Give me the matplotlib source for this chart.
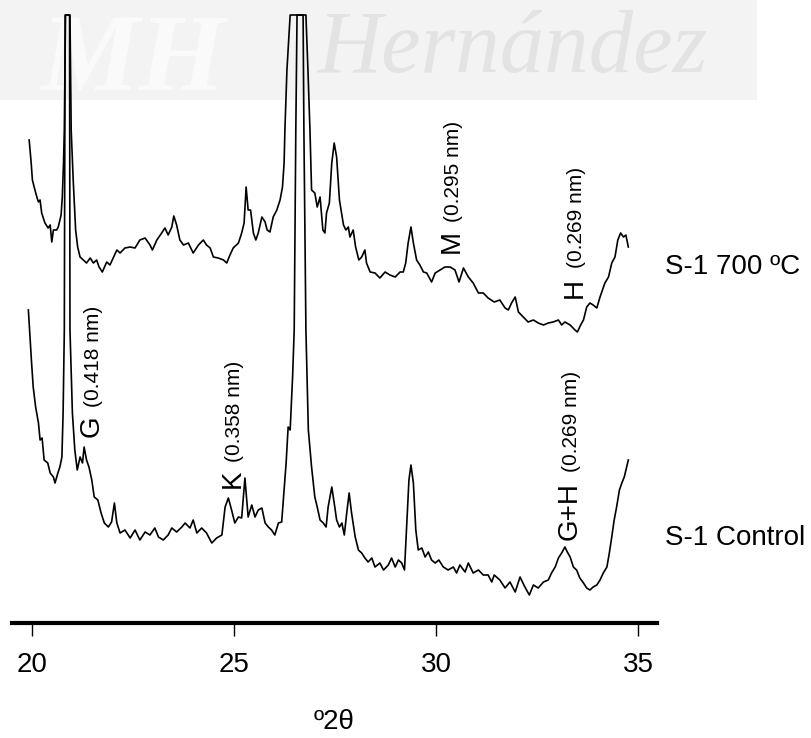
import matplotlib
matplotlib.use("Agg")
import matplotlib.pyplot as plt
from matplotlib.patches import Rectangle

plt.rcParams['font.family'] = ['Liberation Sans', 'DejaVu Sans']

# S-1 700 ºC pattern (own intensity scale, clipped at 330)
two_theta_700 = [19.93, 19.98, 20.01, 20.06, 20.12, 20.16, 20.20, 20.24, 20.32, 20.40,
                 20.45, 20.49, 20.53, 20.61, 20.65, 20.72, 20.75, 20.78, 20.80, 20.83,
                 20.94, 20.97, 21.02, 21.08, 21.13, 21.19, 21.27, 21.35, 21.44, 21.52,
                 21.60, 21.66, 21.74, 21.85, 21.93, 22.01, 22.10, 22.18, 22.30, 22.43,
                 22.55, 22.67, 22.80, 22.92, 22.98, 23.09, 23.21, 23.29, 23.37, 23.46,
                 23.51, 23.58, 23.66, 23.75, 23.87, 23.99, 24.12, 24.24, 24.32, 24.41,
                 24.49, 24.61, 24.74, 24.82, 24.90, 24.98, 25.11, 25.19, 25.25, 25.30,
                 25.35, 25.41, 25.48, 25.54, 25.60, 25.69, 25.77, 25.82, 25.89, 25.97,
                 26.06, 26.14, 26.20, 26.24, 26.26, 26.31, 26.39, 26.78, 26.83, 26.88,
                 26.92, 27.00, 27.06, 27.13, 27.20, 27.25, 27.29, 27.36, 27.42, 27.48,
                 27.54, 27.61, 27.71, 27.77, 27.83, 27.87, 27.95, 28.01, 28.09, 28.16,
                 28.24, 28.28, 28.37, 28.49, 28.61, 28.74, 28.86, 28.99, 29.11, 29.19,
                 29.25, 29.31, 29.38, 29.44, 29.52, 29.60, 29.69, 29.77, 29.89, 29.98,
                 30.10, 30.22, 30.35, 30.47, 30.57, 30.68, 30.80, 30.92, 31.05, 31.17,
                 31.29, 31.44, 31.58, 31.71, 31.79, 31.87, 31.96, 32.04, 32.16, 32.28,
                 32.41, 32.53, 32.66, 32.78, 32.90, 33.03, 33.11, 33.19, 33.32, 33.44,
                 33.50, 33.58, 33.65, 33.73, 33.81, 33.89, 33.98, 34.06, 34.18, 34.27,
                 34.35, 34.43, 34.50, 34.57, 34.64, 34.70, 34.76]
counts_700 = [205, 182, 165, 157, 148, 143, 145, 132, 122, 117,
              120, 103, 115, 115, 118, 130, 148, 182, 215, 330,
              330, 215, 165, 115, 98, 88, 85, 82, 87, 82,
              85, 78, 73, 83, 80, 87, 95, 92, 97, 98,
              97, 105, 107, 100, 95, 105, 112, 117, 110, 118,
              129, 120, 105, 100, 102, 92, 100, 105, 100, 97,
              88, 87, 85, 82, 90, 97, 102, 112, 122, 158,
              135, 135, 112, 105, 112, 128, 123, 115, 113, 128,
              135, 145, 158, 182, 215, 275, 330, 330, 275, 215,
              155, 152, 138, 148, 115, 112, 132, 142, 182, 202,
              188, 145, 120, 115, 118, 108, 115, 98, 85, 88,
              95, 82, 73, 72, 67, 73, 70, 68, 73, 73,
              82, 102, 118, 102, 85, 80, 73, 72, 63, 72,
              75, 78, 78, 75, 63, 77, 68, 62, 52, 52,
              47, 43, 45, 37, 35, 42, 48, 33, 28, 23,
              25, 22, 20, 22, 23, 25, 20, 23, 20, 15,
              13, 20, 25, 38, 42, 40, 37, 48, 62, 68,
              82, 88, 105, 112, 108, 110, 98]

# S-1 Control pattern (clipped at 595)
two_theta_ctrl = [19.91, 19.95, 19.99, 20.03, 20.09, 20.16, 20.20, 20.25, 20.30, 20.39,
                  20.45, 20.53, 20.57, 20.64, 20.69, 20.74, 20.77, 20.80, 20.82, 20.93,
                  20.94, 21.00, 21.06, 21.12, 21.19, 21.25, 21.29, 21.35, 21.41, 21.48,
                  21.54, 21.63, 21.71, 21.79, 21.89, 21.97, 22.04, 22.10, 22.18, 22.30,
                  22.43, 22.55, 22.67, 22.80, 22.92, 23.04, 23.13, 23.25, 23.37, 23.46,
                  23.58, 23.71, 23.79, 23.91, 23.99, 24.08, 24.20, 24.32, 24.45, 24.57,
                  24.70, 24.78, 24.86, 24.94, 25.02, 25.11, 25.19, 25.27, 25.35, 25.44,
                  25.52, 25.60, 25.69, 25.77, 25.85, 25.93, 26.01, 26.10, 26.18, 26.22,
                  26.29, 26.34, 26.39, 26.45, 26.49, 26.53, 26.56, 26.71, 26.73, 26.78,
                  26.84, 26.92, 27.00, 27.06, 27.13, 27.21, 27.28, 27.33, 27.42, 27.48,
                  27.54, 27.61, 27.67, 27.73, 27.79, 27.85, 27.91, 28.00, 28.08, 28.16,
                  28.24, 28.32, 28.41, 28.49, 28.61, 28.70, 28.82, 28.90, 28.99, 29.07,
                  29.15, 29.22, 29.27, 29.33, 29.38, 29.44, 29.50, 29.56, 29.65, 29.73,
                  29.81, 29.89, 29.98, 30.07, 30.18, 30.30, 30.43, 30.51, 30.59, 30.72,
                  30.80, 30.92, 31.05, 31.17, 31.29, 31.38, 31.44, 31.58, 31.71, 31.83,
                  31.96, 32.08, 32.20, 32.31, 32.41, 32.53, 32.66, 32.78, 32.86, 32.95,
                  33.03, 33.11, 33.19, 33.25, 33.32, 33.40, 33.48, 33.56, 33.65, 33.73,
                  33.81, 33.89, 33.98, 34.06, 34.14, 34.23, 34.29, 34.35, 34.41, 34.47,
                  34.54, 34.60, 34.66, 34.72, 34.76]
counts_ctrl = [300, 273, 247, 223, 203, 187, 170, 172, 150, 147,
               137, 133, 127, 137, 143, 153, 197, 280, 595, 595,
               280, 197, 160, 140, 153, 147, 163, 150, 143, 130,
               113, 110, 97, 87, 83, 88, 107, 87, 77, 80,
               72, 80, 70, 78, 75, 82, 73, 70, 75, 82,
               78, 83, 87, 82, 90, 77, 82, 77, 67, 72,
               75, 103, 112, 100, 87, 93, 92, 132, 93, 105,
               93, 100, 102, 87, 83, 80, 75, 87, 88, 110,
               147, 183, 180, 233, 280, 480, 595, 595, 480, 280,
               180, 143, 113, 103, 90, 87, 83, 103, 123, 107,
               90, 83, 87, 75, 97, 117, 97, 73, 60, 57,
               52, 48, 52, 43, 47, 40, 45, 52, 43, 50,
               47, 40, 80, 130, 145, 127, 80, 60, 62, 53,
               58, 50, 47, 50, 43, 40, 43, 37, 45, 38,
               47, 37, 40, 35, 35, 28, 35, 30, 22, 28,
               18, 33, 23, 15, 25, 22, 28, 30, 37, 43,
               52, 57, 63, 58, 53, 43, 40, 32, 27, 22,
               20, 23, 25, 30, 37, 43, 57, 73, 90, 103,
               120, 127, 133, 143, 150]

offset_700 = 265

# peak labels: letter, d-spacing, 2θ, where the letter starts, where the d-spacing starts
peak_letters = ['G', 'K', 'M', 'H', 'G+H']
peak_spacings = ['(0.418 nm)', '(0.358 nm)', '(0.295 nm)', '(0.269 nm)', '(0.269 nm)']
peak_x = [21.66, 25.15, 30.57, 33.61, 33.49]
peak_letter_y = [173, 122, 357, 312, 70]
peak_spacing_y = [203, 148, 388, 342, 138]

sample_names = ['S-1 700 ºC', 'S-1 Control']
sample_label_y = [343, 72]

fig = plt.figure(figsize=(8.11, 7.38), dpi=100)

# faint thesis watermark behind the plot
fig.patches.append(Rectangle((0, 0.865), 0.933, 0.135, transform=fig.transFigure,
                             facecolor='#f3f3f3', edgecolor='none', zorder=-2))
fig.text(0.392, 0.902, 'Hernández', fontsize=64, family='Liberation Serif',
         style='italic', color='#e3e3e3', zorder=-1)
fig.text(0.05, 0.878, 'MH', fontsize=80, family='Liberation Serif', style='italic',
         weight='bold', color='#fafafa', zorder=-1)

ax = fig.add_axes([12 / 811, 115 / 738, 645 / 811, 608 / 738])
ax.patch.set_visible(False)

ax.plot(two_theta_ctrl, counts_ctrl, color='black', lw=1.2, clip_on=False)
ax.plot(two_theta_700, [c + offset_700 for c in counts_700], color='black', lw=1.2,
        clip_on=False)

for name, ly in zip(sample_names, sample_label_y):
    ax.text(35.67, ly, name, fontsize=20, ha='left', va='center')

for letter, spacing, px, ly, sy in zip(peak_letters, peak_spacings, peak_x,
                                       peak_letter_y, peak_spacing_y):
    ax.text(px, ly, letter, fontsize=20, rotation=90, rotation_mode='anchor',
            ha='left', va='baseline')
    ax.text(px, sy, spacing, fontsize=15, rotation=90, rotation_mode='anchor',
            ha='left', va='baseline')

ax.set_xlim(19.505, 35.47)
ax.set_ylim(-13, 595)
for side in ['left', 'right', 'top']:
    ax.spines[side].set_visible(False)
ax.spines['bottom'].set_linewidth(3)
ax.set_yticks([])
ax.set_xticks([20, 25, 30, 35])
ax.tick_params(axis='x', direction='out', length=9, width=1, labelsize=20, pad=12)
ax.set_xlabel('º2θ', fontsize=20, labelpad=22)

fig.savefig('out.png', dpi=100)
